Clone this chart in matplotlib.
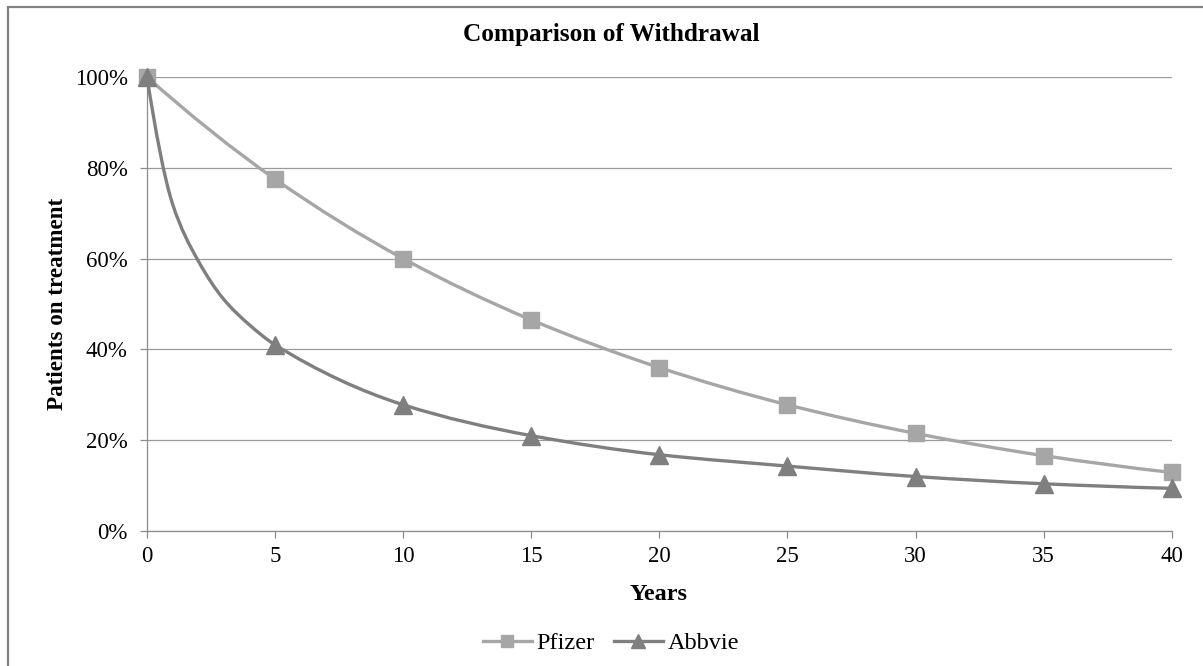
import numpy as np
import matplotlib
matplotlib.use("Agg")
import matplotlib.pyplot as plt
from matplotlib.path import Path
from matplotlib.patches import PathPatch, Rectangle
from matplotlib.lines import Line2D
from matplotlib.ticker import PercentFormatter, MultipleLocator

# Data (% of patients still on treatment)
# -----------------------------------------------------------
pfizer_years = [0, 5, 10, 15, 20, 25, 30, 35, 40]
pfizer_pct = [100, 77.5, 60.0, 46.5, 36.0, 27.8, 21.5, 16.6, 12.9]

abbvie_years = [0, 1, 2, 3, 4, 5, 10, 15, 20, 25, 30, 35, 40]
abbvie_pct = [100, 72.0, 59.5, 51.0, 45.4, 41.0, 27.8, 21.0, 16.8, 14.3, 12.0, 10.4, 9.4]

x_ticks = [0, 5, 10, 15, 20, 25, 30, 35, 40]

pfizer_col = "#A6A6A6"
abbvie_col = "#7F7F7F"
grid_col = "#9A9A9A"
serif = ["Liberation Serif", "DejaVu Serif"]


def smooth_path(x, y):
    # monotone cubic through the points, written as bezier segments
    x = np.asarray(x, float)
    y = np.asarray(y, float)
    h = np.diff(x)
    d = np.diff(y) / h
    m = np.zeros_like(y)
    for i in range(1, len(x) - 1):
        if d[i - 1] * d[i] > 0:
            w1 = 2 * h[i] + h[i - 1]
            w2 = h[i] + 2 * h[i - 1]
            m[i] = (w1 + w2) / (w1 / d[i - 1] + w2 / d[i])
    m[0] = ((2 * h[0] + h[1]) * d[0] - h[0] * d[1]) / (h[0] + h[1])
    m[-1] = ((2 * h[-1] + h[-2]) * d[-1] - h[-1] * d[-2]) / (h[-1] + h[-2])
    verts = [(x[0], y[0])]
    codes = [Path.MOVETO]
    for i in range(len(x) - 1):
        verts += [(x[i] + h[i] / 3, y[i] + m[i] * h[i] / 3),
                  (x[i + 1] - h[i] / 3, y[i + 1] - m[i + 1] * h[i] / 3),
                  (x[i + 1], y[i + 1])]
        codes += [Path.CURVE4] * 3
    return Path(verts, codes)


fig = plt.figure(figsize=(12.03, 6.66), dpi=100)
ax = fig.add_axes([147 / 1203, 1 - 531 / 666, 1024.7 / 1203, 454 / 666])

# lines
ax.add_patch(PathPatch(smooth_path(pfizer_years, pfizer_pct), fill=False,
                       edgecolor=pfizer_col, lw=2.4, zorder=3, capstyle="round"))
ax.add_patch(PathPatch(smooth_path(abbvie_years, abbvie_pct), fill=False,
                       edgecolor=abbvie_col, lw=2.4, zorder=4, capstyle="round"))

# markers every 5 years
pf_idx = [i for i, yr in enumerate(pfizer_years) if yr % 5 == 0]
ab_idx = [i for i, yr in enumerate(abbvie_years) if yr % 5 == 0]
ax.plot(pfizer_years, pfizer_pct, ls="none", marker="s", ms=11.5,
        color=pfizer_col, markevery=pf_idx, zorder=5, clip_on=False)
ax.plot(abbvie_years, abbvie_pct, ls="none", marker="^", ms=13,
        color=abbvie_col, markevery=ab_idx, zorder=6, clip_on=False)

ax.set_xlim(0, 40)
ax.set_ylim(0, 100)
ax.set_xticks(x_ticks)
ax.yaxis.set_major_locator(MultipleLocator(20))
ax.yaxis.set_major_formatter(PercentFormatter(xmax=100, decimals=0))

ax.grid(axis="y", color=grid_col, lw=0.9)
ax.set_axisbelow(True)
for s in ["top", "right"]:
    ax.spines[s].set_visible(False)
for s in ["left", "bottom"]:
    ax.spines[s].set_color("#8C8C8C")
    ax.spines[s].set_linewidth(0.9)
ax.tick_params(axis="both", direction="out", length=5, width=0.9, color="#8C8C8C")
ax.tick_params(axis="x", pad=6)
ax.tick_params(axis="y", pad=9)
for lab in ax.get_xticklabels() + ax.get_yticklabels():
    lab.set_fontfamily(serif)
    lab.set_fontsize(16.5)

# titles
fig.text(611 / 1203, 1 - 41 / 666, "Comparison of Withdrawal", ha="center",
         va="baseline", fontsize=18.2, fontweight="bold", family=serif)
fig.text(659 / 1203, 1 - 595 / 666, "Years", ha="center", va="center",
         fontsize=17.5, fontweight="bold", family=serif)
fig.text(58 / 1203, 1 - 304 / 666, "Patients on treatment", ha="center",
         va="center", rotation=90, fontsize=16.6, fontweight="bold", family=serif)

# legend
handles = [Line2D([], [], color=pfizer_col, lw=2.4, marker="s", ms=9),
           Line2D([], [], color=abbvie_col, lw=2.4, marker="^", ms=10)]
fig.legend(handles, ["Pfizer", "Abbvie"], loc="center",
           bbox_to_anchor=(611 / 1203, 1 - 643 / 666), ncol=2, frameon=False,
           handlelength=2.0, handletextpad=0.2, columnspacing=0.8,
           prop={"family": serif, "size": 17.5})

# chart border
fig.add_artist(Rectangle((8 / 1203, -0.05), 1.1, 1 - 7 / 666 + 0.05,
                         transform=fig.transFigure, fill=False,
                         edgecolor="#808080", lw=1.6))

fig.savefig("out.png", dpi=100)
